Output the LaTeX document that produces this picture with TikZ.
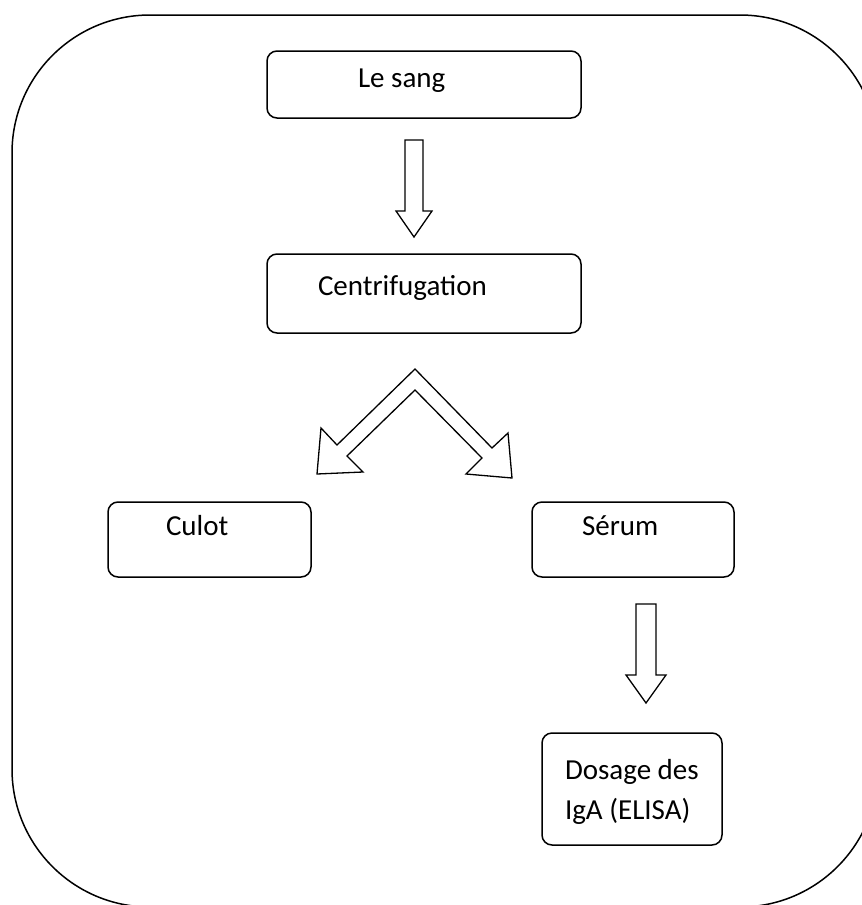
\documentclass[tikz,border=0pt]{standalone}
\usepackage{fontspec}
\setmainfont{Carlito}

\begin{document}
\begin{tikzpicture}[x=1pt,y=-1pt,
    boite/.style={draw, line width=1.5pt, rounded corners=10pt, inner xsep=0pt, inner ysep=0pt,
      font=\fontsize{29pt}{40pt}\selectfont, text height=15pt},
    fleche/.style={draw, line width=1.3pt, line join=miter}]
        \useasboundingbox (0,0) rectangle (862,905);
        \clip (0,0) rectangle (862,905);
        % Cadre
        \draw[line width=1.5pt, rounded corners=138pt] (12,15) rectangle (878,907);
        % Etapes
        \node[boite, minimum height=67pt, text depth=10pt] (sang) at (424,84.5) {\makebox[314pt][l]{\hspace*{91pt}Le sang}};
        \node[boite, minimum height=79pt, text depth=12pt] (centri) at (424,293.5) {\makebox[314pt][l]{\hspace*{51pt}Centrifugation}};
        \node[boite, minimum height=75pt, text depth=24pt] (culot) at (209.5,539.5) {\makebox[203pt][l]{\hspace*{58pt}Culot}};
        \node[boite, minimum height=75pt, text depth=24pt] (serum) at (633,539.5) {\makebox[202pt][l]{\hspace*{50pt}Sérum}};
        \node[boite, minimum height=112pt, text depth=35pt] (dosage) at (632,789)
          {\parbox[t]{180pt}{\hspace*{23pt}Dosage des\\\hspace*{23pt}IgA (ELISA)}};
        % Fleche sang -> centrifugation
        \draw[fleche] (405,140) -- (423,140) -- (423,211) -- (432,211) -- (414,237) -- (396,211) -- (405,211) -- cycle;
        % Fleche double
        \draw[fleche] (415,369) -- (337,445) -- (321,428) -- (317,474) -- (363,472) -- (347,456) -- (415,390)
          -- (482,458) -- (466,474) -- (512,478) -- (508,433) -- (492,448) -- cycle;
        % Fleche serum -> dosage
        \draw[fleche] (636,604) -- (656,604) -- (656,675) -- (666,675) -- (646,703) -- (626,675) -- (636,675) -- cycle;
\end{tikzpicture}
\end{document}
